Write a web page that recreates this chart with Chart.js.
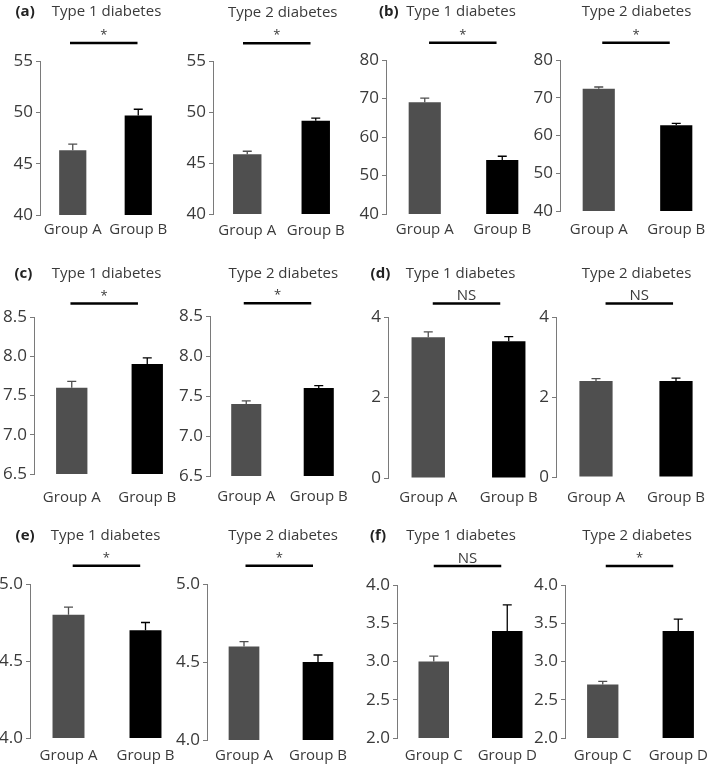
<!DOCTYPE html>
<html><head><meta charset="utf-8">
<script src="https://cdn.jsdelivr.net/npm/chart.js@4"></script>
<style>
html,body{margin:0;padding:0;width:709px;height:766px;overflow:hidden;background:#fff;}
canvas{position:absolute;}
</style>
</head><body>
<script>
// ---------- DATA ----------
const panelTags = ['(a)', '(b)', '(c)', '(d)', '(e)', '(f)'];
const panelTitles = ['Type 1 diabetes', 'Type 2 diabetes'];
const groupsAB = ['Group A', 'Group B'];
const groupsCD = ['Group C', 'Group D'];

const aType1 = [46.3, 49.7];   const aType1Err = [0.6, 0.6];
const aType2 = [45.85, 49.15]; const aType2Err = [0.3, 0.25];
const bType1 = [69.0, 54.0];   const bType1Err = [1.1, 1.0];
const bType2 = [72.4, 62.7];   const bType2Err = [0.45, 0.5];
const cType1 = [7.6, 7.9];     const cType1Err = [0.08, 0.08];
const cType2 = [7.4, 7.6];     const cType2Err = [0.04, 0.03];
const dType1 = [3.5, 3.4];     const dType1Err = [0.13, 0.11];
const dType2 = [2.4, 2.4];     const dType2Err = [0.06, 0.07];
const eType1 = [4.8, 4.7];     const eType1Err = [0.05, 0.05];
const eType2 = [4.6, 4.5];     const eType2Err = [0.03, 0.045];
const fType1 = [3.0, 3.4];     const fType1Err = [0.07, 0.34];
const fType2 = [2.7, 3.4];     const fType2Err = [0.04, 0.155];

const significance = ['*', '*', '*', '*', '*', '*', 'NS', 'NS', '*', '*', 'NS', '*'];

const yMin  = [40, 40, 6.5, 0, 4, 2];
const yMax  = [55, 80, 8.5, 4, 5, 4];
const yStep = [5, 10, 0.5, 2, 0.5, 0.5];
const yDecimals = [0, 0, 1, 0, 1, 1];

// ---------- LAYOUT (page pixels) ----------
const charts = [
  {p:0, t:0, vals:aType1, errs:aType1Err, groups:groupsAB, area:[39.5,61,170.5,215],  row:0, col:0, shift:-1.75},
  {p:0, t:1, vals:aType2, errs:aType2Err, groups:groupsAB, area:[213.3,60.7,350.3,213.3], row:0, col:1, shift:-4.75},
  {p:1, t:0, vals:bType1, errs:bType1Err, groups:groupsAB, area:[386,60.3,540.7,214], row:0, col:2, shift:-0.7},
  {p:1, t:1, vals:bType2, errs:bType2Err, groups:groupsAB, area:[560,60.3,715,211.7], row:0, col:3, shift:-1.5},
  {p:2, t:0, vals:cType1, errs:cType1Err, groups:groupsAB, area:[33.5,316.7,184.3,473.3], row:1, col:0, shift:-5.3},
  {p:2, t:1, vals:cType2, errs:cType2Err, groups:groupsAB, area:[209.6,316,354.6,476], row:1, col:1, shift:-5},
  {p:3, t:0, vals:dType1, errs:dType1Err, groups:groupsAB, area:[388.4,316.7,549.4,477.7], row:1, col:2, shift:-2},
  {p:3, t:1, vals:dType2, errs:dType2Err, groups:groupsAB, area:[556,316.7,716,476.7], row:1, col:3, shift:3.3},
  {p:4, t:0, vals:eType1, errs:eType1Err, groups:groupsAB, area:[30.4,584.3,184.6,738.3], row:2, col:0, shift:-0.55},
  {p:4, t:1, vals:eType2, errs:eType2Err, groups:groupsAB, area:[207,584.3,355.2,740.7], row:2, col:1, shift:-1.75},
  {p:5, t:0, vals:fType1, errs:fType1Err, groups:groupsCD, area:[397,585,543.8,738.3], row:2, col:2, shift:-3},
  {p:5, t:1, vals:fType2, errs:fType2Err, groups:groupsCD, area:[564.5,585,715.3,738.3], row:2, col:3, shift:-1}
];
const rowTitleY = [12, 273.3, 536];
const rowSigY   = [43, 303.3, 566];
const rowLabelY = [230, 497, 756];
const colTitleX = [106, 283, 461, 636.5];
const tagX = {0:15, 1:379, 2:14, 3:371, 4:16, 5:370};

const FONT = "'Open Sans', 'Noto Sans', sans-serif";
const TEXT = '#3a3a3a';
const BAR_COLORS = ['#4f4f4f', '#000000'];
const AXIS = '#7a7a7a';
const PAD_L = 45, PAD_T = 70, PAD_R = 10, XH = 40;

charts.forEach((c, idx) => {
  const [L, T, R, B] = c.area;
  const cLeft = L - PAD_L, cTop = T - PAD_T;
  const cw = Math.round(PAD_L + (R - L) + PAD_R);
  const ch = Math.round(PAD_T + (B - T) + XH);
  const cv = document.createElement('canvas');
  cv.width = cw; cv.height = ch;
  cv.style.left = cLeft + 'px'; cv.style.top = cTop + 'px';
  cv.style.width = cw + 'px'; cv.style.height = ch + 'px';
  document.body.appendChild(cv);

  const p = c.p;
  const xPad = rowLabelY[c.row] - B - 9;

  const annot = {
    id: 'annot' + idx,
    afterDatasetsDraw(chart) {
      const ctx = chart.ctx;
      const ys = chart.scales.y;
      const meta = chart.getDatasetMeta(0);
      ctx.save();
      // error bars (upper only)
      meta.data.forEach((bar, i) => {
        const top = bar.y;
        const e = ys.getPixelForValue(c.vals[i] + c.errs[i]);
        ctx.strokeStyle = BAR_COLORS[i];
        ctx.lineWidth = 1.3;
        ctx.beginPath();
        ctx.moveTo(bar.x, top);
        ctx.lineTo(bar.x, e);
        ctx.moveTo(bar.x - 4.5, e);
        ctx.lineTo(bar.x + 4.5, e);
        ctx.stroke();
      });
      // significance line
      const mid = (meta.data[0].x + meta.data[1].x) / 2 + c.shift;
      const sy = rowSigY[c.row] - cTop;
      ctx.strokeStyle = '#000';
      ctx.lineWidth = 2.5;
      ctx.beginPath();
      ctx.moveTo(mid - 33.75, sy);
      ctx.lineTo(mid + 33.75, sy);
      ctx.stroke();
      ctx.fillStyle = TEXT;
      ctx.textAlign = 'center';
      ctx.textBaseline = 'alphabetic';
      const s = significance[idx];
      ctx.font = (s === '*' ? '13px ' : '15px ') + FONT;
      ctx.fillText(s, mid, sy - (s === '*' ? 4 : 3.5));
      // title
      ctx.textBaseline = 'middle';
      ctx.font = '15px ' + FONT;
      ctx.fillText(panelTitles[c.t], colTitleX[c.col] - cLeft, rowTitleY[c.row] - cTop);
      if (c.t === 0) {
        ctx.textAlign = 'left';
        ctx.font = 'bold 15px ' + FONT;
        ctx.fillStyle = '#222';
        ctx.fillText(panelTags[p], tagX[p] - cLeft, rowTitleY[c.row] - cTop);
      }
      ctx.restore();
    }
  };

  new Chart(cv, {
    type: 'bar',
    data: {
      labels: c.groups,
      datasets: [{
        data: c.vals,
        backgroundColor: BAR_COLORS,
        borderWidth: 0,
        barPercentage: 0.415,
        categoryPercentage: 1
      }]
    },
    options: {
      responsive: false,
      animation: false,
      devicePixelRatio: 1,
      layout: { padding: { left: 0, top: PAD_T, right: PAD_R, bottom: 0 } },
      plugins: { legend: { display: false }, tooltip: { enabled: false }, title: { display: false } },
      scales: {
        x: {
          offset: true,
          grid: { display: false, drawTicks: false },
          border: { display: false },
          ticks: { font: { family: FONT, size: 15 }, color: TEXT, padding: xPad, maxRotation: 0 },
          afterFit: s => { s.height = XH; }
        },
        y: {
          min: yMin[p], max: yMax[p],
          ticks: {
            stepSize: yStep[p],
            font: { family: FONT, size: 17 },
            color: TEXT,
            padding: 3,
            callback: v => Number(v).toFixed(yDecimals[p])
          },
          grid: { drawOnChartArea: false, drawTicks: true, tickLength: 4, color: AXIS, lineWidth: 1 },
          border: { display: true, color: AXIS, width: 1 },
          afterFit: s => { s.width = PAD_L; }
        }
      }
    },
    plugins: [annot]
  });
});
</script>
</body></html>
